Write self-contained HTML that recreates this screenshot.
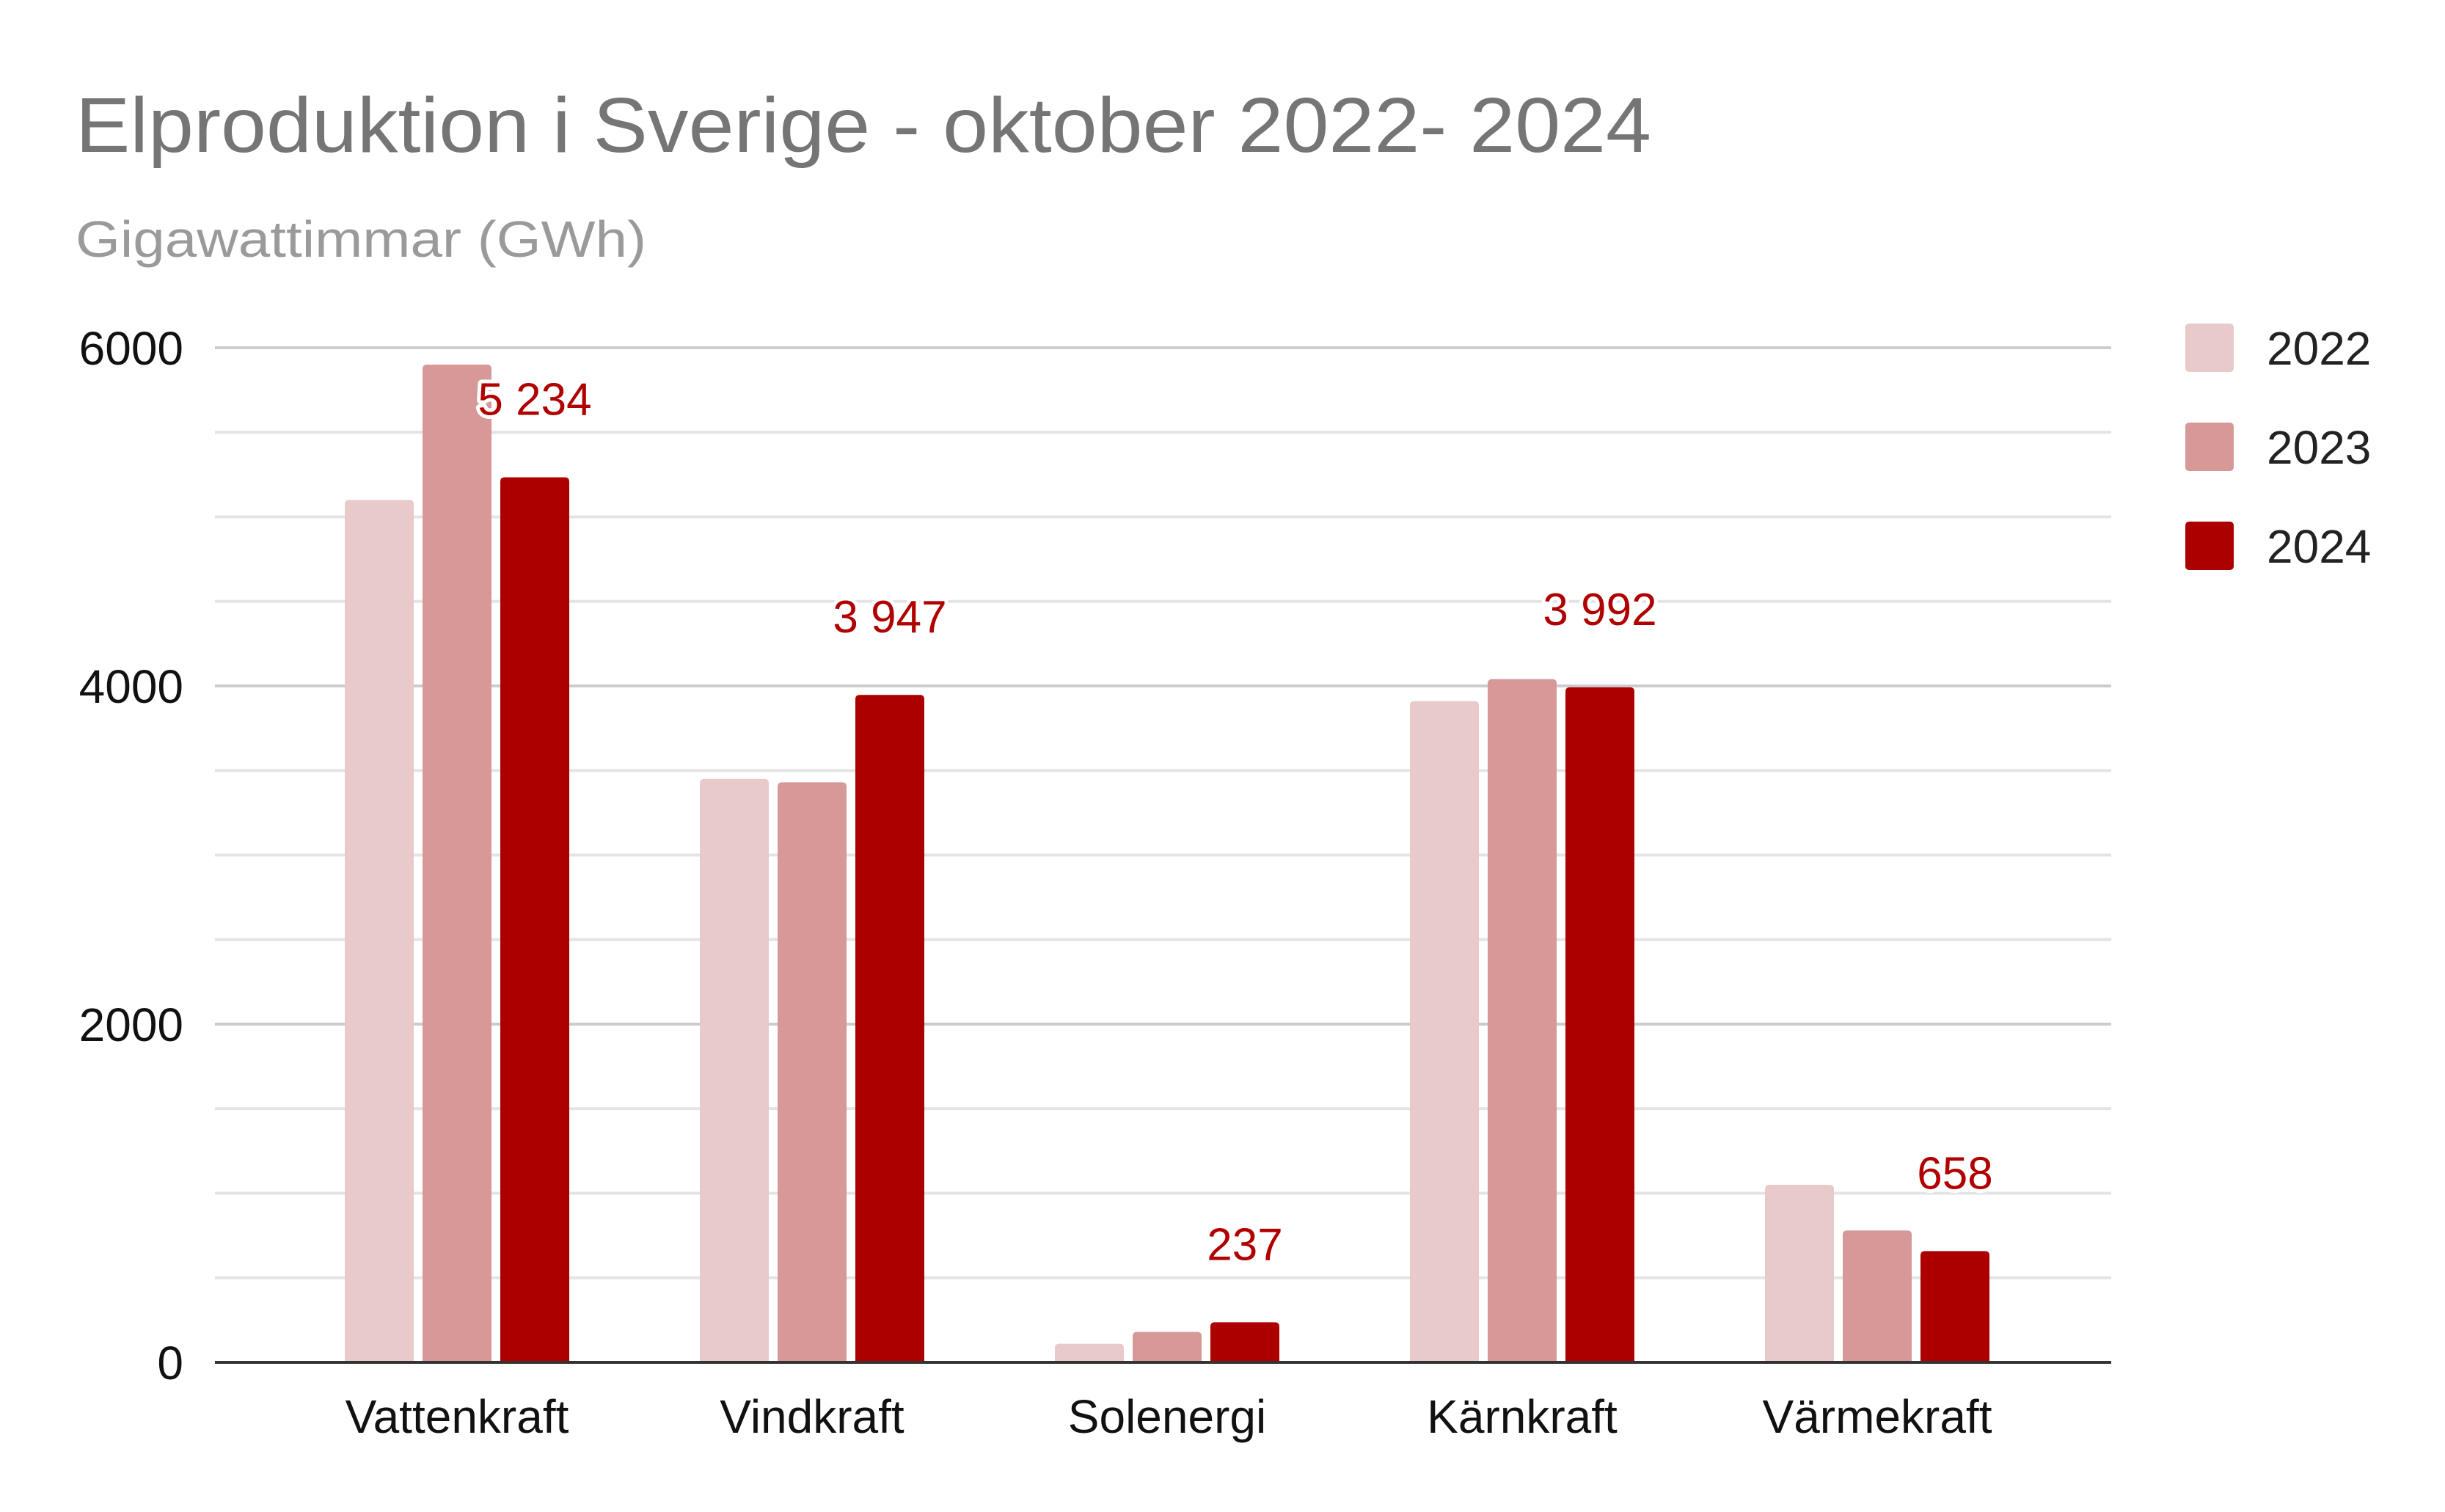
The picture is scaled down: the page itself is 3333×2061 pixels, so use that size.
<!DOCTYPE html>
<html><head><meta charset="utf-8"><style>
html,body{margin:0;padding:0;background:#fff;}
svg{display:block;font-family:"Liberation Sans",Arial,sans-serif;}
</style></head><body>
<svg id="chart" width="3333" height="2061" viewBox="0 0 3333 2061" xmlns="http://www.w3.org/2000/svg">
<rect width="3333" height="2061" fill="#fff"/>
<text x="103" y="207" font-size="106" fill="#757575" textLength="2148" lengthAdjust="spacingAndGlyphs">Elproduktion i Sverige - oktober 2022- 2024</text>
<text x="103" y="350" font-size="70" fill="#9a9a9a" textLength="778" lengthAdjust="spacingAndGlyphs">Gigawattimmar (GWh)</text>
<g id="grid"></g>
<g id="bars"></g>
<g id="labels"></g>
<g id="legend"></g>
</svg>
<script>
const categories = ["Vattenkraft","Vindkraft","Solenergi","Kärnkraft","Värmekraft"];
const seriesNames = ["2022","2023","2024"];
const values2022 = [5100, 3450, 110, 3910, 1050];
const values2023 = [5900, 3430, 180, 4040, 780];
const values2024 = [5234, 3947, 237, 3992, 658];
const dataLabels = ["5 234","3 947","237","3 992","658"];
const yTicks = [0, 2000, 4000, 6000];
const yTickLabels = ["0","2000","4000","6000"];
const minorTicks = [500,1000,1500,2500,3000,3500,4500,5000,5500];

const NS = "http://www.w3.org/2000/svg";
const colors = ["#e8cacb","#d79898","#ac0000"];
const plotLeft = 293, plotRight = 2878, yZero = 1857, yTop = 474, yMax = 6000;
const firstBarX = 470, groupStep = 484, barStep = 106, barW = 94;
function y(v){ return yZero - (v / yMax) * (yZero - yTop); }
function groupX(i){ return firstBarX + i * groupStep; }
function mk(tag, attrs, parent){ const e = document.createElementNS(NS, tag); for (const k in attrs) e.setAttribute(k, attrs[k]); parent.appendChild(e); return e; }

const grid = document.getElementById('grid');
minorTicks.forEach(v => {
  const l = mk('line', {x1: plotLeft, x2: plotRight, y1: y(v), y2: y(v), stroke: '#e4e4e4', 'stroke-width': 4}, grid);
  
  
});
yTicks.forEach((v, i) => {
  if (v !== 0) {
    const l = mk('line', {x1: plotLeft, x2: plotRight, y1: y(v), y2: y(v), stroke: '#cccccc', 'stroke-width': 4}, grid);
    
    
  }
  const t = mk('text', {x: 250, y: y(v) + 23, 'font-size': 64, 'text-anchor': 'end', fill: '#111'}, grid);
  t.textContent = yTickLabels[i];
  
  
});

const bars = document.getElementById('bars');
const series = [values2022, values2023, values2024];
series.forEach((vals, s) => {
  vals.forEach((v, i) => {
    const x = groupX(i) + s * barStep;
    const top = y(v);
    const r = mk('path', {d: `M${x},${yZero} V${top+6} Q${x},${top} ${x+6},${top} H${x+barW-6} Q${x+barW},${top} ${x+barW},${top+6} V${yZero} Z`, fill: colors[s]}, bars);
    
    
  });
});
const axis = mk('line', {x1: plotLeft, x2: plotRight, y1: yZero, y2: yZero, stroke: '#333', 'stroke-width': 4}, bars);



const labels = document.getElementById('labels');
categories.forEach((c, i) => {
  const cx = groupX(i) + barStep + barW / 2;
  const t = mk('text', {x: cx, y: 1953, 'font-size': 64, 'text-anchor': 'middle', fill: '#111'}, labels);
  t.textContent = c;
  
  
  const lx = groupX(i) + 2 * barStep + barW / 2;
  const d = mk('text', {x: lx, y: y(values2024[i]) - 85, 'font-size': 62, 'text-anchor': 'middle', fill: '#b00000', stroke: '#fff', 'stroke-width': 10, 'paint-order': 'stroke', 'stroke-linejoin': 'round'}, labels);
  d.textContent = dataLabels[i];
  
  
});

const legend = document.getElementById('legend');
seriesNames.forEach((n, s) => {
  const cy = 474 + s * 135;
  const r = mk('rect', {x: 2979, y: cy - 33, width: 66, height: 66, rx: 5, fill: colors[s]}, legend);
  
  
  const t = mk('text', {x: 3090, y: cy + 23, 'font-size': 64, fill: '#222'}, legend);
  t.textContent = n;
  
  
});
</script>
</body></html>
